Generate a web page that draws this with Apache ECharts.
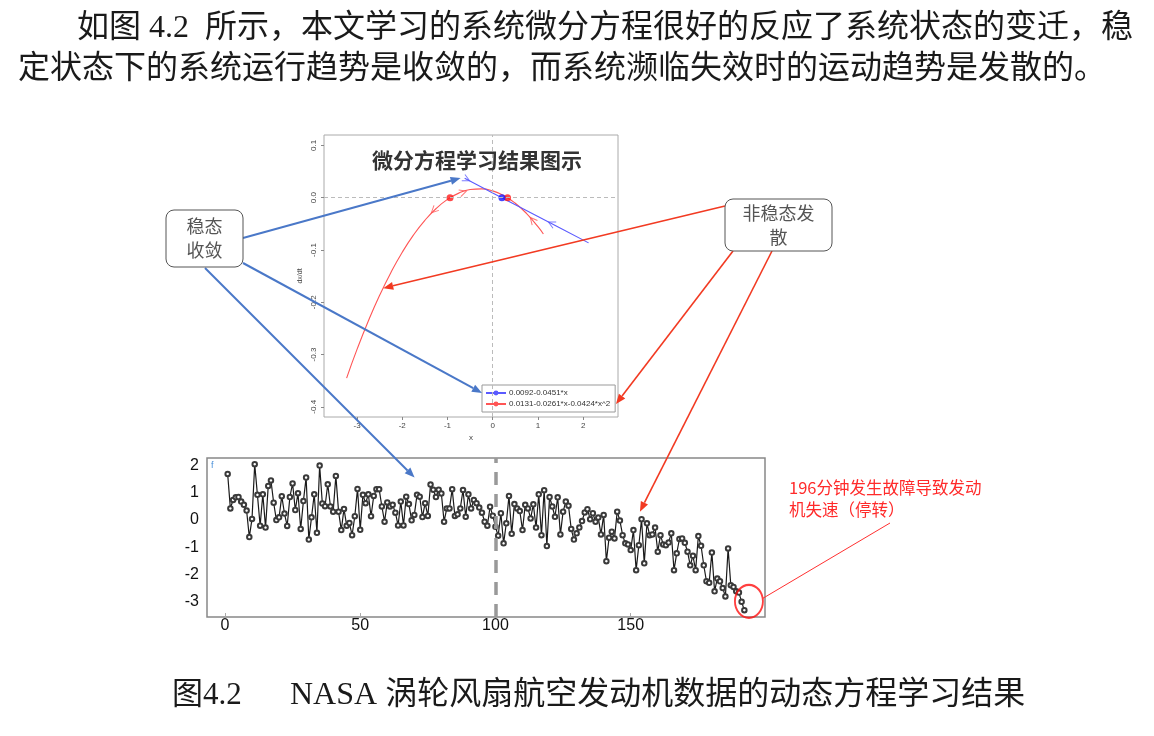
<!DOCTYPE html>
<html><head><meta charset="utf-8">
<script src="https://cdn.jsdelivr.net/npm/echarts@6/dist/echarts.min.js"></script>
<style>html,body{margin:0;padding:0;background:#fff;}#main{width:1154px;height:736px;}</style>
</head><body><div id="main"></div>
<script>
// ---------- text ----------
const headerLine1 = '如图 4.2  所示，本文学习的系统微分方程很好的反应了系统状态的变迁，稳';
const headerLine2 = '定状态下的系统运行趋势是收敛的，而系统濒临失效时的运动趋势是发散的。';
const captionLabel = '图4.2';
const captionText = 'NASA 涡轮风扇航空发动机数据的动态方程学习结果';
const topTitle = '微分方程学习结果图示';
const stableBoxText = '稳态\n收敛';
const unstableBoxText = '非稳态发\n散';
const failureNote = '196分钟发生故障导致发动\n机失速（停转）';

// ---------- top chart data (phase plot) ----------
const linearName = '0.0092-0.0451*x';
const quadName = '0.0131-0.0261*x-0.0424*x^2';
const linearX = [-0.62, 0.0, 0.5, 1.0, 1.5, 2.12];
const linearY = [0.0372, 0.0092, -0.0134, -0.0359, -0.0585, -0.0864];
const quadX = [-3.23, -3.0, -2.75, -2.5, -2.25, -2.0, -1.75, -1.5, -1.25, -1.0, -0.75, -0.5, -0.25, 0.0, 0.25, 0.5, 0.75, 1.0, 1.12];
const quadY = [-0.345, -0.2902, -0.2358, -0.1866, -0.1429, -0.1043, -0.0711, -0.0432, -0.0206, -0.0032, 0.0088, 0.0156, 0.0170, 0.0131, 0.0039, -0.0106, -0.0303, -0.0554, -0.0693];
const stableRootX = [0.204];
const stableRootY = [0];
const quadRootX = [-0.943, 0.328];
const quadRootY = [0, 0];
const chevronX = [-0.58, 1.30, -0.655, -1.30, 0.88];
const chevronY = [0.0354, -0.0494, 0.0107, -0.024, -0.0428];
const chevronAngle = [-27, 153, 18, -136, 131];
const chevronSeries = ['blue', 'blue', 'red', 'red', 'red'];
const topXTicks = [-3, -2, -1, 0, 1, 2];
const topYTicks = [-0.4, -0.3, -0.2, -0.1, 0, 0.1];

// ---------- bottom chart data (sensor series, minutes 1..192) ----------
const sensorValues = [
 1.70, 0.43, 0.74, 0.84, 0.85, 0.68, 0.56, 0.35, -0.63, 0.04,
 2.06, 0.93, -0.21, 0.95, -0.28, 1.26, 1.46, 0.64, 0.00, 0.10,
 0.88, 0.24, -0.22, 0.85, 1.35, 0.37, 0.99, -0.33, 0.70, 1.57,
 -0.72, 0.10, 0.95, -0.47, 2.01, 0.61, 0.51, 1.32, 0.50, 0.31,
 1.63, 0.31, -0.37, 0.41, -0.21, -0.11, -0.56, 0.14, 1.15, -0.36,
 0.93, 0.62, 0.95, 0.14, 0.89, 1.14, 1.14, 0.50, -0.06, 0.65,
 0.50, 0.56, 0.27, -0.20, 0.68, -0.20, 0.86, 0.59, -0.01, 0.19,
 0.93, 0.86, 0.11, 0.62, 0.15, 1.31, 1.12, 0.85, 1.12, 0.98,
 -0.06, 0.43, 0.43, 1.14, 0.15, 0.21, 0.43, 1.11, 0.12, 0.95,
 0.43, 0.74, 0.62, 0.46, 0.27, -0.06, -0.21, 0.49, 0.16, -0.25,
 -0.58, 0.25, -0.86, -0.12, 0.89, -0.51, 0.59, 0.43, 0.33, -0.37,
 0.56, 0.43, 0.06, 0.58, -0.28, 0.95, -0.56, 1.10, -0.96, 0.85,
 0.50, 0.12, 0.84, -0.53, 0.31, 0.68, 0.53, -0.33, -0.72, -0.49,
 -0.28, -0.04, 0.28, 0.40, 0.03, 0.25, -0.06, 0.09, -0.53, 0.19,
 -1.52, -0.65, -0.43, -0.68, 0.31, -0.02, -0.56, -0.86, -0.90, -1.11,
 -0.37, -1.85, -0.93, 0.03, -1.60, -0.12, -0.56, -0.53, -0.28, -1.17,
 -0.56, -0.90, -0.93, -0.83, -0.49, -1.85, -1.23, -0.70, -0.68, -0.84,
 -1.17, -1.67, -1.32, -1.85, -0.59, -0.95, -1.67, -2.26, -2.32, -1.20,
 -2.63, -2.16, -2.26, -2.51, -2.82, -1.05, -2.41, -2.47, -2.63, -2.68,
 -3.02, -3.33
];
const bottomXTicks = [0, 50, 100, 150];
const bottomYTicks = [-3, -2, -1, 0, 1, 2];
const changeMinute = [100];
const failureMarkX = [193.7];
const failureMarkY = [-3.0];

// ---------- annotation anchors (data coords) ----------
const stableTargetTop = [-0.71, 0.0375];
const stableTargetBottom = [70.1, 1.57];
const unstableTargetTop = [-2.42, -0.173];
const unstableTargetBottom = [153.4, 0.31];

const BLUE = '#4a78c8', RED = '#f23a22';
const serifFont = "'Liberation Serif','Noto Sans CJK SC',serif";
const cjkFont = "'Noto Sans CJK SC','Liberation Sans',sans-serif";

const chart = echarts.init(document.getElementById('main'), null, {renderer: 'canvas'});

const option = {
  animation: false,
  backgroundColor: '#fff',
  title: {
    text: topTitle, left: 472, top: 145, textAlign: 'center',
    textStyle: {fontFamily: cjkFont, fontSize: 21, fontWeight: 'bold', color: '#333'}
  },
  legend: {
    data: [linearName, quadName],
    orient: 'vertical', left: 482, top: 385,
    itemWidth: 20, itemHeight: 6, itemGap: 3,
    padding: [4, 5, 4, 3],
    borderColor: '#999', borderWidth: 1, backgroundColor: '#fff',
    textStyle: {fontSize: 8, color: '#333', fontFamily: 'Liberation Sans', padding: [0, 0, 0, -2]}
  },
  grid: [
    {left: 324, top: 135, width: 294, height: 282, show: true, borderColor: '#aaa', borderWidth: 1, backgroundColor: 'transparent'},
    {left: 207, top: 458, width: 558, height: 159, show: true, borderColor: '#888', borderWidth: 1.5, backgroundColor: 'transparent'}
  ],
  xAxis: [
    {gridIndex: 0, type: 'value', min: -3.73, max: 2.77, position: 'bottom',
     name: 'x', nameLocation: 'middle', nameGap: 17, nameTextStyle: {fontSize: 8, color: '#444'},
     axisLine: {show: false, onZero: false}, splitLine: {show: false},
     axisTick: {show: true, customValues: topXTicks, length: 3, lineStyle: {color: '#888'}},
     axisLabel: {customValues: topXTicks, fontSize: 8, color: '#444', margin: 5}},
    {gridIndex: 1, type: 'value', min: -6.64, max: 199.64, position: 'bottom',
     axisLine: {show: false, onZero: false}, splitLine: {show: false},
     axisTick: {show: true, inside: true, customValues: bottomXTicks, length: 4, lineStyle: {color: '#aaa'}},
     axisLabel: {customValues: bottomXTicks, fontSize: 16, color: '#111', margin: 1, fontFamily: 'Liberation Sans'}}
  ],
  yAxis: [
    {gridIndex: 0, type: 'value', min: -0.4195, max: 0.12, position: 'left',
     name: 'dx/dt', nameLocation: 'middle', nameRotate: 90, nameGap: 20, nameTextStyle: {fontSize: 7, color: '#444'},
     axisLine: {show: false, onZero: false}, splitLine: {show: false},
     axisTick: {show: true, customValues: topYTicks, length: 3, lineStyle: {color: '#888'}},
     axisLabel: {customValues: topYTicks, rotate: 90, fontSize: 8, color: '#444', margin: 6,
                 formatter: v => Number(v).toFixed(1)}},
    {gridIndex: 1, type: 'value', min: -3.58, max: 2.29, position: 'left',
     axisLine: {show: false, onZero: false}, splitLine: {show: false},
     axisTick: {show: false},
     axisLabel: {customValues: bottomYTicks, fontSize: 16, color: '#111', margin: 8, fontFamily: 'Liberation Sans'}}
  ],
  series: [
    {name: quadName, type: 'line', xAxisIndex: 0, yAxisIndex: 0, smooth: true,
     data: quadX.map((x, i) => [x, quadY[i]]), showSymbol: false, symbol: 'circle', symbolSize: 5,
     lineStyle: {color: '#ff5555', width: 1.1}, itemStyle: {color: '#ff5555'}, z: 3},
    {name: linearName, type: 'line', xAxisIndex: 0, yAxisIndex: 0,
     data: linearX.map((x, i) => [x, linearY[i]]), showSymbol: false, symbol: 'circle', symbolSize: 5,
     lineStyle: {color: '#5a5aff', width: 1.1}, itemStyle: {color: '#5a5aff'}, z: 3,
     markLine: {silent: true, symbol: 'none', label: {show: false},
       lineStyle: {color: '#bbb', type: [4, 3], width: 1},
       data: [{xAxis: 0}, {yAxis: 0}]}},
    {name: 'roots', type: 'scatter', xAxisIndex: 0, yAxisIndex: 0, symbolSize: 7, z: 4,
     data: quadRootX.map((x, i) => ({value: [x, quadRootY[i]], itemStyle: {color: '#ff1a1a'}}))
       .concat(stableRootX.map((x, i) => ({value: [x, stableRootY[i]], itemStyle: {color: '#1a1aff'}})))},
    {name: 'dir', type: 'scatter', xAxisIndex: 0, yAxisIndex: 0, symbol: 'path://M0,0L10,5L0,10', symbolSize: 7, z: 4,
     data: chevronX.map((x, i) => ({value: [x, chevronY[i]], symbolRotate: chevronAngle[i],
       itemStyle: {color: 'none', borderWidth: 1, borderColor: chevronSeries[i] === 'blue' ? '#5a5aff' : '#ff5555'}}))},
    {name: 'sensor', type: 'line', xAxisIndex: 1, yAxisIndex: 1,
     data: sensorValues.map((v, i) => [i + 1, v]),
     symbol: 'emptyCircle', symbolSize: 4.5, showSymbol: true, showAllSymbol: true,
     lineStyle: {color: '#1a1a1a', width: 1.2},
     itemStyle: {color: '#3a3a3a', borderColor: '#3a3a3a', borderWidth: 1}, z: 3,
     markLine: {silent: true, symbol: 'none', label: {show: false},
       lineStyle: {color: '#999', type: [13, 9], width: 3.5},
       data: changeMinute.map(m => ({xAxis: m}))}},
    {name: 'failure', type: 'scatter', xAxisIndex: 1, yAxisIndex: 1, symbol: 'circle', symbolSize: [28, 33], z: 5,
     data: failureMarkX.map((x, i) => [x, failureMarkY[i]]),
     itemStyle: {color: 'rgba(0,0,0,0)', borderColor: '#ff1010', borderWidth: 2}}
  ]
};
chart.setOption(option);

function toPx(grid, pt) { return chart.convertToPixel({gridIndex: grid}, pt); }
function arrow(from, to, color, width) {
  const dx = to[0] - from[0], dy = to[1] - from[1];
  const len = Math.sqrt(dx * dx + dy * dy), ux = dx / len, uy = dy / len;
  const L = 10, W = 4;
  const bx = to[0] - ux * L, by = to[1] - uy * L;
  return [
    {type: 'line', z: 50, silent: true, shape: {x1: from[0], y1: from[1], x2: bx, y2: by}, style: {stroke: color, lineWidth: width}},
    {type: 'polygon', z: 50, silent: true, shape: {points: [to, [bx - uy * W, by + ux * W], [bx + uy * W, by - ux * W]]}, style: {fill: color}}
  ];
}

const fc = toPx(1, [failureMarkX[0], failureMarkY[0]]);
const gfx = [
  {type: 'text', left: 77, top: 13, style: {text: headerLine1, font: "32px " + serifFont, fill: '#1a1a1a'}},
  {type: 'text', left: 18, top: 54, style: {text: headerLine2, font: "32px " + serifFont, fill: '#1a1a1a'}},
  {type: 'text', left: 172, top: 680, style: {text: captionLabel, font: "31px " + serifFont, fill: '#1a1a1a'}},
  {type: 'text', left: 290, top: 680, style: {text: captionText, font: "32px " + serifFont, fill: '#1a1a1a'}},
  {type: 'rect', z: 60, shape: {x: 166, y: 210, width: 77, height: 57, r: 8}, style: {fill: '#fff', stroke: '#555', lineWidth: 1}},
  {type: 'text', z: 61, style: {text: stableBoxText, x: 204.5, y: 238.5, align: 'center', verticalAlign: 'middle', font: "18px " + cjkFont, fill: '#555', lineHeight: 24}},
  {type: 'rect', z: 60, shape: {x: 725, y: 199, width: 107, height: 52, r: 8}, style: {fill: '#fff', stroke: '#555', lineWidth: 1}},
  {type: 'text', z: 61, style: {text: unstableBoxText, x: 778.5, y: 225, align: 'center', verticalAlign: 'middle', font: "18px " + cjkFont, fill: '#555', lineHeight: 24}},
  {type: 'text', z: 61, style: {text: failureNote, x: 789, y: 477, font: "16.5px " + cjkFont, fill: '#ff2a2a', lineHeight: 22}},
  {type: 'text', z: 61, style: {text: 'f', x: 211, y: 461, font: "9px 'Liberation Sans'", fill: '#4a90d9'}},
  {type: 'line', z: 50, silent: true, shape: {x1: fc[0] + 14, y1: fc[1] - 3, x2: 890, y2: 523}, style: {stroke: '#ff3030', lineWidth: 1}}
];
[
  [[243, 238], toPx(0, stableTargetTop), BLUE],
  [[243, 263], [482, 393], BLUE],
  [[205, 268], toPx(1, stableTargetBottom), BLUE],
  [[725, 206], toPx(0, unstableTargetTop), RED],
  [[733, 251], [616, 404], RED],
  [[772, 251], toPx(1, unstableTargetBottom), RED]
].forEach(a => { gfx.push(...arrow(a[0], a[1], a[2], a[2] === BLUE ? 2 : 1.6)); });
chart.setOption({graphic: {elements: gfx}});
</script></body></html>
